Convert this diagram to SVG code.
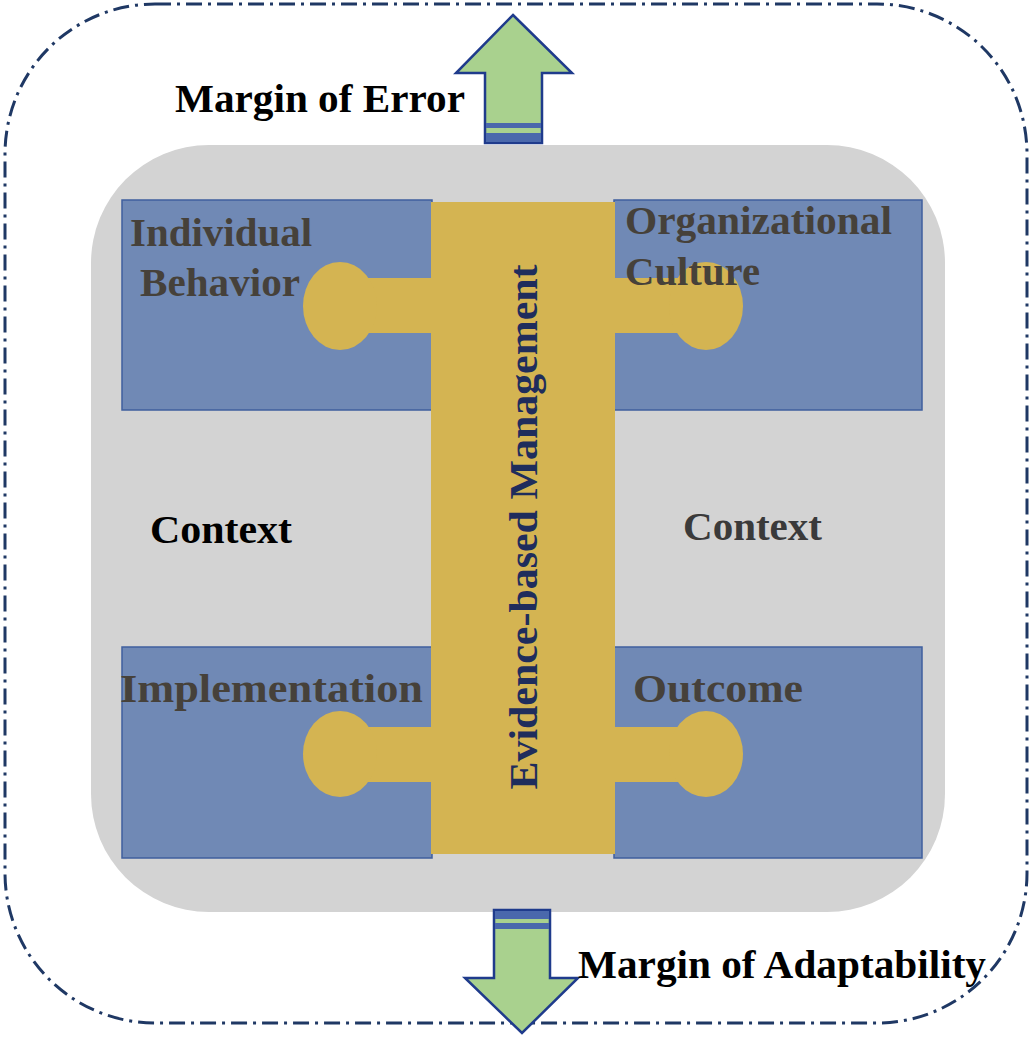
<svg xmlns="http://www.w3.org/2000/svg" width="1034" height="1044" viewBox="0 0 1034 1044">
<style>
.lbl{font-family:"Liberation Serif","Times New Roman",serif;font-weight:bold;font-size:40px}
.dark{fill:#46413a}
.blk{fill:#000}
.box{fill:#7089b5;stroke:#3f5f9e;stroke-width:1.5}
.yel{fill:#d4b452}
.arr{fill:#a9d18e;stroke:#1f3b8c;stroke-width:2.5;stroke-linejoin:miter}
.band{fill:#4a68ac}
</style>
<rect width="1034" height="1044" fill="#ffffff"/>
<g id="frame">
<rect x="5" y="4" width="1022" height="1019" rx="150" ry="150" fill="none" stroke="#1f3864" stroke-width="3" stroke-dasharray="16,6,3,6"/>
</g>
<g id="context-area">
<rect x="91" y="145" width="854" height="767" rx="118" ry="118" fill="#d3d3d3"/>
</g>
<g id="individual-behavior">
<rect class="box" x="122" y="200" width="310" height="210"/>
</g>
<g id="organizational-culture">
<rect class="box" x="614" y="200" width="308" height="210"/>
</g>
<g id="implementation">
<rect class="box" x="122" y="647" width="310" height="211"/>
</g>
<g id="outcome">
<rect class="box" x="614" y="647" width="308" height="211"/>
</g>
<g id="evidence-based-management">
<rect class="yel" x="431" y="202" width="184" height="652"/>
<rect class="yel" x="335" y="278" width="100" height="55"/>
<ellipse class="yel" cx="340" cy="306" rx="37" ry="44"/>
<rect class="yel" x="610" y="278" width="100" height="55"/>
<ellipse class="yel" cx="706" cy="306" rx="37" ry="44"/>
<rect class="yel" x="335" y="727" width="100" height="55"/>
<ellipse class="yel" cx="340" cy="754" rx="37" ry="43"/>
<rect class="yel" x="610" y="727" width="100" height="55"/>
<ellipse class="yel" cx="706" cy="754" rx="37" ry="43"/>
<text class="lbl" x="0" y="0" fill="#1f2d5c" text-anchor="middle" textLength="525" lengthAdjust="spacingAndGlyphs" transform="translate(537,527) rotate(-90)">Evidence-based Management</text>
</g>
<g id="labels">
<text class="lbl dark" x="130" y="246" textLength="182" lengthAdjust="spacingAndGlyphs">Individual</text>
<text class="lbl dark" x="140" y="296" textLength="160" lengthAdjust="spacingAndGlyphs">Behavior</text>
<text class="lbl dark" x="625" y="234" textLength="267" lengthAdjust="spacingAndGlyphs">Organizational</text>
<text class="lbl dark" x="625" y="285" textLength="135" lengthAdjust="spacingAndGlyphs">Culture</text>
<text class="lbl dark" x="120" y="702" textLength="303" lengthAdjust="spacingAndGlyphs">Implementation</text>
<text class="lbl dark" x="633" y="702" textLength="170" lengthAdjust="spacingAndGlyphs">Outcome</text>
<text class="lbl blk" x="150" y="543" textLength="142" lengthAdjust="spacingAndGlyphs">Context</text>
<text class="lbl" fill="#3a3a3a" x="683" y="540" textLength="139" lengthAdjust="spacingAndGlyphs">Context</text>
</g>
<g id="margin-of-error">
<path class="arr" d="M513,15 L572,73 L542,73 L542,143 L485,143 L485,73 L456,73 Z"/>
<rect class="band" x="486" y="123" width="55" height="5"/>
<rect class="band" x="486" y="133" width="55" height="9"/>
<text class="lbl blk" x="175" y="112" textLength="290" lengthAdjust="spacingAndGlyphs">Margin of Error</text>
</g>
<g id="margin-of-adaptability">
<path class="arr" d="M494,910 L550,910 L550,978 L578,978 L522,1033 L465,978 L494,978 Z"/>
<rect class="band" x="495" y="911" width="54" height="8"/>
<rect class="band" x="495" y="923" width="54" height="6"/>
<text class="lbl blk" x="578" y="978" textLength="408" lengthAdjust="spacingAndGlyphs">Margin of Adaptability</text>
</g>
<g id="connectors"></g>
</svg>
